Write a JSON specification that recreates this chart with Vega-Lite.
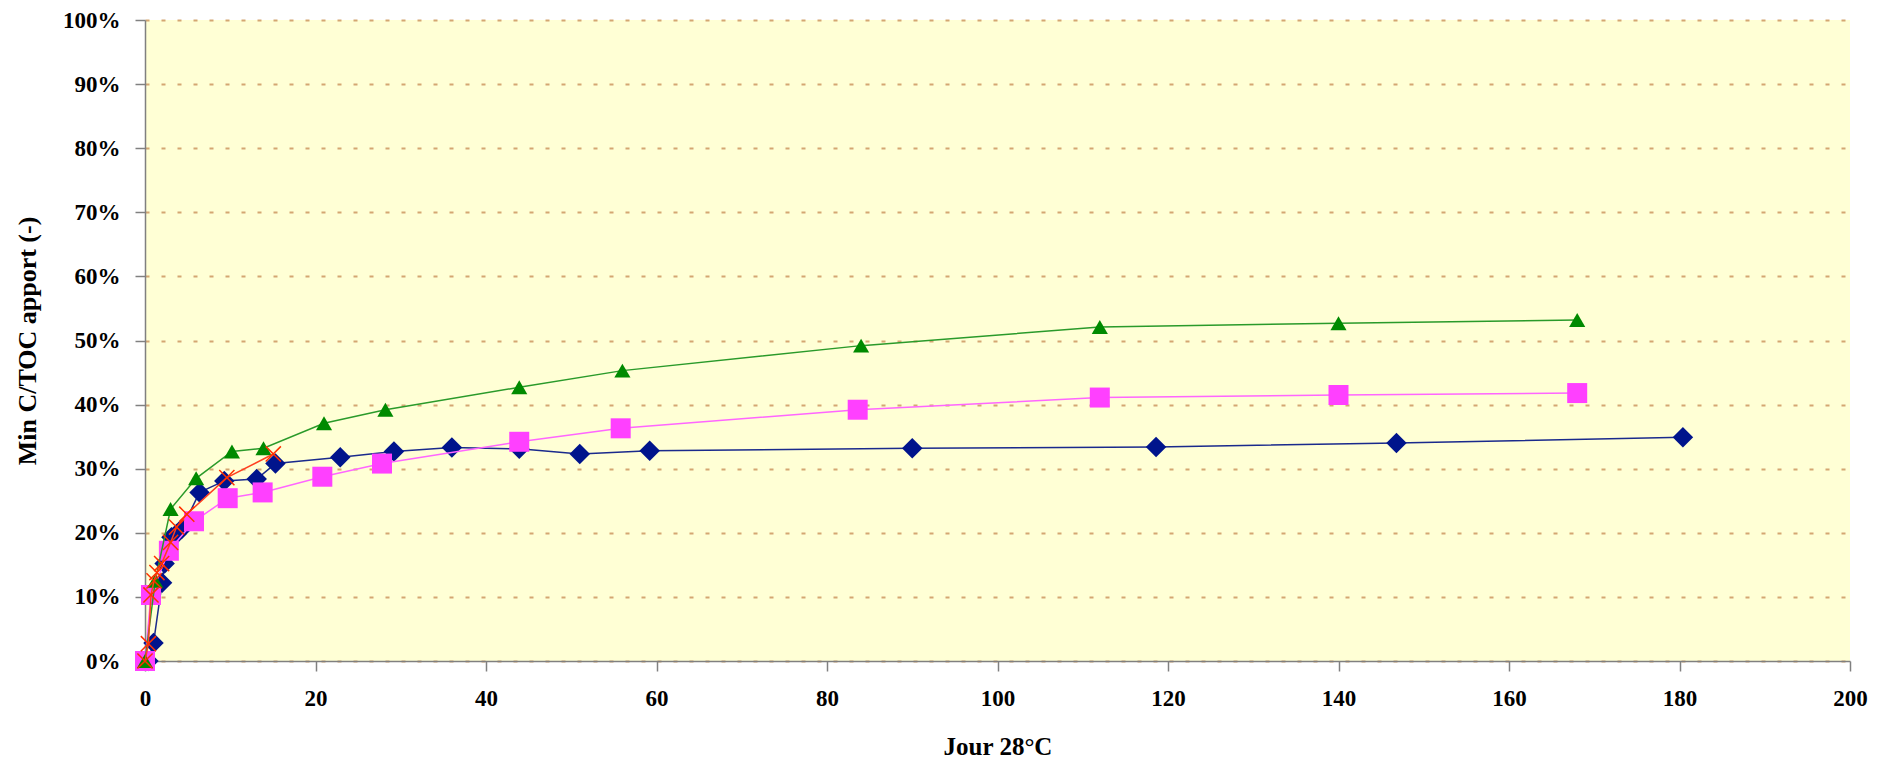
{
  "$schema": "https://vega.github.io/schema/vega-lite/v6.json",
  "width": 1705,
  "height": 641,
  "autosize": "none",
  "padding": {"left": 145, "top": 20, "right": 33, "bottom": 109},
  "background": "white",
  "config": {
    "view": {"stroke": null, "fill": "#FFFFD5"},
    "font": "Liberation Serif",
    "axis": {
      "labelFont": "Liberation Serif", "labelFontWeight": "bold", "labelFontSize": 23, "labelColor": "black",
      "titleFont": "Liberation Serif", "titleFontWeight": "bold", "titleFontSize": 25, "titleColor": "black",
      "domainColor": "#808080", "domainWidth": 1.5, "tickColor": "#808080", "tickWidth": 1.5, "tickSize": 10,
      "labelFlush": false
    }
  },
  "data": {"values": [
    {"serie": "A", "jour": 0.4, "v": 0},
    {"serie": "A", "jour": 1.0, "v": 0.028},
    {"serie": "A", "jour": 2.0, "v": 0.122},
    {"serie": "A", "jour": 2.3, "v": 0.152},
    {"serie": "A", "jour": 3.1, "v": 0.193},
    {"serie": "A", "jour": 3.7, "v": 0.198},
    {"serie": "A", "jour": 4.3, "v": 0.206},
    {"serie": "A", "jour": 6.4, "v": 0.263},
    {"serie": "A", "jour": 9.3, "v": 0.281},
    {"serie": "A", "jour": 13.1, "v": 0.284},
    {"serie": "A", "jour": 15.3, "v": 0.308},
    {"serie": "A", "jour": 22.9, "v": 0.318},
    {"serie": "A", "jour": 29.2, "v": 0.327},
    {"serie": "A", "jour": 36.0, "v": 0.333},
    {"serie": "A", "jour": 43.9, "v": 0.331},
    {"serie": "A", "jour": 51.0, "v": 0.323},
    {"serie": "A", "jour": 59.2, "v": 0.328},
    {"serie": "A", "jour": 90.0, "v": 0.332},
    {"serie": "A", "jour": 118.6, "v": 0.334},
    {"serie": "A", "jour": 146.8, "v": 0.34},
    {"serie": "A", "jour": 180.4, "v": 0.349},
    {"serie": "B", "jour": 0, "v": 0},
    {"serie": "B", "jour": 0.7, "v": 0.103},
    {"serie": "B", "jour": 2.8, "v": 0.172},
    {"serie": "B", "jour": 5.75, "v": 0.218},
    {"serie": "B", "jour": 9.7, "v": 0.254},
    {"serie": "B", "jour": 13.8, "v": 0.263},
    {"serie": "B", "jour": 20.8, "v": 0.2875},
    {"serie": "B", "jour": 27.8, "v": 0.308},
    {"serie": "B", "jour": 43.9, "v": 0.342},
    {"serie": "B", "jour": 55.8, "v": 0.363},
    {"serie": "B", "jour": 83.6, "v": 0.392},
    {"serie": "B", "jour": 112, "v": 0.411},
    {"serie": "B", "jour": 140, "v": 0.415},
    {"serie": "B", "jour": 168, "v": 0.418},
    {"serie": "C", "jour": 0, "v": 0},
    {"serie": "C", "jour": 1.2, "v": 0.125},
    {"serie": "C", "jour": 3.0, "v": 0.237},
    {"serie": "C", "jour": 6.0, "v": 0.285},
    {"serie": "C", "jour": 10.2, "v": 0.327},
    {"serie": "C", "jour": 13.9, "v": 0.332},
    {"serie": "C", "jour": 21, "v": 0.371},
    {"serie": "C", "jour": 28.2, "v": 0.392},
    {"serie": "C", "jour": 43.9, "v": 0.427},
    {"serie": "C", "jour": 56, "v": 0.453},
    {"serie": "C", "jour": 84, "v": 0.492},
    {"serie": "C", "jour": 112, "v": 0.521},
    {"serie": "C", "jour": 140, "v": 0.527},
    {"serie": "C", "jour": 168, "v": 0.532},
    {"serie": "D", "jour": 0, "v": 0},
    {"serie": "D", "jour": 0.4, "v": 0.027},
    {"serie": "D", "jour": 0.7, "v": 0.103},
    {"serie": "D", "jour": 1.06, "v": 0.125},
    {"serie": "D", "jour": 1.4, "v": 0.138},
    {"serie": "D", "jour": 1.95, "v": 0.152},
    {"serie": "D", "jour": 3.0, "v": 0.185},
    {"serie": "D", "jour": 3.7, "v": 0.209},
    {"serie": "D", "jour": 4.9, "v": 0.229},
    {"serie": "D", "jour": 9.6, "v": 0.286},
    {"serie": "D", "jour": 15.05, "v": 0.323}
  ]},
  "encoding": {
    "x": {"field": "jour", "type": "quantitative",
      "scale": {"domain": [0, 200], "nice": false},
      "axis": {"title": "Jour 28°C", "values": [0,20,40,60,80,100,120,140,160,180,200], "grid": false, "labelPadding": 16, "titlePadding": 24}},
    "y": {"field": "v", "type": "quantitative",
      "scale": {"domain": [0, 1], "nice": false},
      "axis": {"title": "Min C/TOC apport (-)", "values": [0,0.1,0.2,0.3,0.4,0.5,0.6,0.7,0.8,0.9,1], "format": ".0%",
        "grid": true, "gridColor": "#D4A672", "gridWidth": 2, "gridDash": [4, 12], "labelPadding": 15, "titlePadding": 22, "titleFontSize": 26}}
  },
  "layer": [
    {"transform": [{"filter": "datum.serie == 'A'"}], "mark": {"type": "line", "color": "#1A2A8C", "strokeWidth": 1.5}},
    {"transform": [{"filter": "datum.serie == 'A'"}], "mark": {"type": "point", "shape": "diamond", "filled": true, "color": "#00148C", "opacity": 1, "size": 420}},
    {"transform": [{"filter": "datum.serie == 'B'"}], "mark": {"type": "line", "color": "#FF66FF", "strokeWidth": 1.5}},
    {"transform": [{"filter": "datum.serie == 'B'"}], "mark": {"type": "point", "shape": "square", "filled": true, "color": "#FF40FF", "opacity": 1, "size": 400}},
    {"transform": [{"filter": "datum.serie == 'C'"}], "mark": {"type": "line", "color": "#2A9A2A", "strokeWidth": 1.5}},
    {"transform": [{"filter": "datum.serie == 'C'"}], "mark": {"type": "point", "shape": "triangle-up", "filled": true, "color": "#008A00", "opacity": 1, "size": 260}},
    {"transform": [{"filter": "datum.serie == 'D'"}], "mark": {"type": "line", "color": "#FF4020", "strokeWidth": 1.5}},
    {"transform": [{"filter": "datum.serie == 'D'"}], "mark": {"type": "point", "shape": "M -1 -1 L 1 1 M -1 1 L 1 -1", "filled": false, "color": "#FF3000", "opacity": 1, "strokeWidth": 1.5, "size": 230}}
  ]
}
